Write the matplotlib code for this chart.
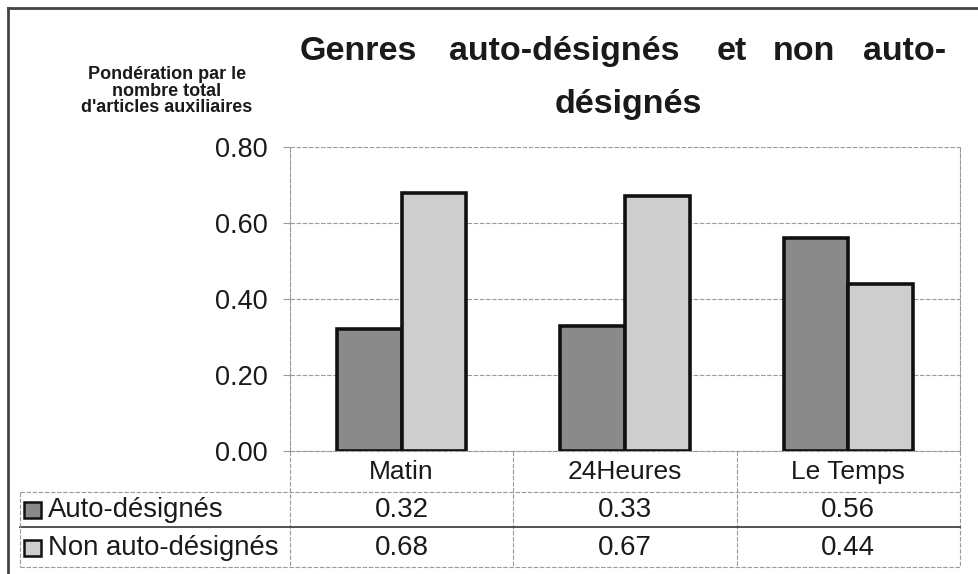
import matplotlib
matplotlib.use("Agg")
import matplotlib.pyplot as plt
from matplotlib.lines import Line2D
from matplotlib.patches import Rectangle
import matplotlib.transforms as mtransforms

categories = ["Matin", "24Heures", "Le Temps"]
series_names = ["Auto-désignés", "Non auto-désignés"]
auto_values = [0.32, 0.33, 0.56]
non_auto_values = [0.68, 0.67, 0.44]
yticks = [0.0, 0.2, 0.4, 0.6, 0.8]
title_line1 = ["Genres", "auto-désignés", "et", "non", "auto-"]
title_line2 = "désignés"
ylabel = "Pondération par le\nnombre total\nd'articles auxiliaires"

REG = "Liberation Sans"

W, H = 979, 574
fig = plt.figure(figsize=(W / 100, H / 100), dpi=100)

def fx(x):
    return x / W

def fy(y):
    return 1 - y / H

# overlay axes in pixel coordinates
ov = fig.add_axes([0, 0, 1, 1])
ov.set_xlim(0, W)
ov.set_ylim(H, 0)
ov.axis("off")

L, R, T, B = 290, 960, 147, 451
ax = fig.add_axes([fx(L), fy(B), fx(R) - fx(L), fy(T) - fy(B)])
ax.set_xlim(-0.5, len(categories) - 0.5)
ax.set_ylim(0, 0.8)

grid_col = "#9a9a9a"
for s in ax.spines.values():
    s.set_color(grid_col)
    s.set_linewidth(0.8)
    s.set_linestyle((0, (4, 1.5)))
ax.spines["top"].set_visible(False)

ax.set_yticks(yticks)
ax.set_yticklabels([f"{v:.2f}" for v in yticks], fontname=REG, fontsize=19.5, color="#1a1a1a")
ax.tick_params(axis="y", length=5, width=0.8, color=grid_col, pad=11)
ax.set_xticks([])
ax.yaxis.grid(True, color=grid_col, linewidth=0.8, linestyle=(0, (4, 1.5)))
ax.set_axisbelow(True)

bw = 0.29
xs = list(range(len(categories)))
ax.bar([x - bw / 2 for x in xs], auto_values, width=bw, color="#8a8a8a",
       edgecolor="#111111", linewidth=2.6, zorder=3)
ax.bar([x + bw / 2 for x in xs], non_auto_values, width=bw, color="#cecece",
       edgecolor="#111111", linewidth=2.6, zorder=3)

# data table below the chart
bt = mtransforms.blended_transform_factory(ax.transData, ov.transData)
tab_left, row_top, row_mid, row_bot = 20, 492, 527, 567
line_kw = dict(color=grid_col, linewidth=0.8, linestyle=(0, (4, 1.5)))
for b in [-0.5, 0.5, 1.5, 2.5]:
    ov.add_line(Line2D([b, b], [B, row_bot], transform=bt, **line_kw))
ov.add_line(Line2D([tab_left, R], [row_top, row_top], **line_kw))
ov.add_line(Line2D([tab_left, R], [row_mid, row_mid], color="#444444", linewidth=1.3))
ov.add_line(Line2D([tab_left, R], [row_bot, row_bot], **line_kw))
ov.add_line(Line2D([tab_left, tab_left], [row_top, row_bot], **line_kw))

for i, c in enumerate(categories):
    ov.text(i, 472, c, transform=bt, ha="center", va="center",
            fontname=REG, fontsize=19, color="#1a1a1a")
    ov.text(i, 510, f"{auto_values[i]:.2f}", transform=bt, ha="center", va="center",
            fontname=REG, fontsize=20, color="#1a1a1a")
    ov.text(i, 548, f"{non_auto_values[i]:.2f}", transform=bt, ha="center", va="center",
            fontname=REG, fontsize=20, color="#1a1a1a")

for name, col, yc in zip(series_names, ["#8a8a8a", "#cecece"], [510, 548]):
    ov.add_patch(Rectangle((24, yc - 8), 17, 16, facecolor=col, edgecolor="#111111", linewidth=1.8))
    ov.text(48, yc, name, ha="left", va="center", fontname=REG, fontsize=19.8, color="#1a1a1a")

# title (justified first line)
title_x = [300, 449, 717, 773, 863]
for word, x in zip(title_line1, title_x):
    ov.text(x, 60, word, ha="left", va="baseline", fontname=REG, fontweight="bold",
            fontsize=24.5, color="#1a1a1a")
ov.text(628, 113, title_line2, ha="center", va="baseline", fontname=REG, fontweight="bold",
        fontsize=24.5, color="#1a1a1a")

# y-axis title
ov.text(167, 91, ylabel, ha="center", va="center", fontname=REG, fontweight="bold",
        fontsize=13, color="#1a1a1a", linespacing=0.95, multialignment="center")

# outer frame (left and top edges visible)
ov.add_line(Line2D([8, 8], [8, H], color="#444444", linewidth=2))
ov.add_line(Line2D([8, W], [8, 8], color="#444444", linewidth=2))

fig.savefig("out.png", dpi=100)
